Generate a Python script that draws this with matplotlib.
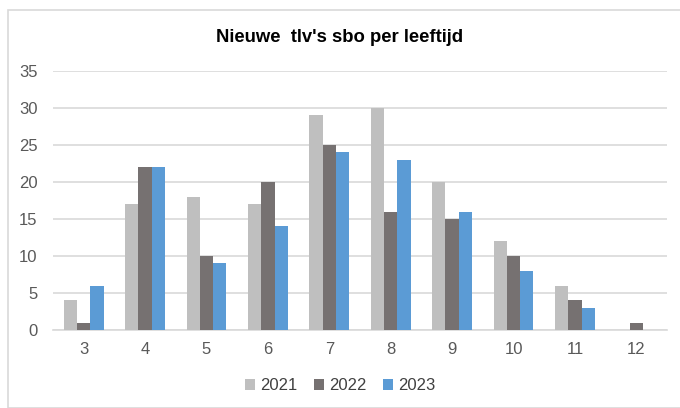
import numpy as np
import matplotlib.pyplot as plt
from matplotlib.patches import Rectangle

# Leeftijden en aantallen nieuwe tlv's per jaar
leeftijden = ["3", "4", "5", "6", "7", "8", "9", "10", "11", "12"]
jaar_2021 = [4, 17, 18, 17, 29, 30, 20, 12, 6, 0]
jaar_2022 = [1, 22, 10, 20, 25, 16, 15, 10, 4, 1]
jaar_2023 = [6, 22, 9, 14, 24, 23, 16, 8, 3, 0]

kleuren = ["#BFBFBF", "#767171", "#5B9BD5"]
tekstkleur = "#595959"

plt.rcParams["font.family"] = ["Liberation Sans", "DejaVu Sans"]

fig = plt.figure(figsize=(6.8, 4.08), dpi=100)
ax = fig.add_axes([53 / 680, 1 - 330 / 408, 614 / 680, 259 / 408])

# kaderlijn rond de grafiek
fig.patches.append(Rectangle((8 / 680, 0), 1, 1 - 10 / 408, transform=fig.transFigure,
                             fill=False, edgecolor="#D9D9D9", linewidth=1.2))

x = np.arange(len(leeftijden))
w = 0.217
for i, (waarden, label) in enumerate(zip([jaar_2021, jaar_2022, jaar_2023], ["2021", "2022", "2023"])):
    ax.bar(x + (i - 1) * w, waarden, width=w, color=kleuren[i], label=label, zorder=3)

ax.set_xlim(-0.5, len(leeftijden) - 0.5)
ax.set_ylim(0, 35)
ax.set_yticks(range(0, 36, 5))
ax.set_xticks(x)
ax.set_xticklabels(leeftijden)
ax.yaxis.grid(True, color="#D9D9D9", linewidth=1.2, zorder=0)
for s in ["top", "right", "left"]:
    ax.spines[s].set_visible(False)
ax.spines["bottom"].set_color("#D9D9D9")
ax.spines["bottom"].set_linewidth(1.2)
ax.tick_params(axis="both", length=0, labelsize=12, colors=tekstkleur)
ax.tick_params(axis="x", pad=9)
ax.tick_params(axis="y", pad=11)

fig.text(0.5, 1 - 37 / 408, "Nieuwe  tlv's sbo per leeftijd", ha="center", va="center",
         fontsize=13.3, fontweight="bold", color="black")

fig.legend(loc="center", bbox_to_anchor=(0.5, 1 - 386 / 408), ncol=3, frameon=False,
           fontsize=12, handlelength=0.6, handleheight=0.6, handletextpad=0.3,
           columnspacing=1.0, labelcolor="#404040")

fig.savefig("out.png", dpi=100)
